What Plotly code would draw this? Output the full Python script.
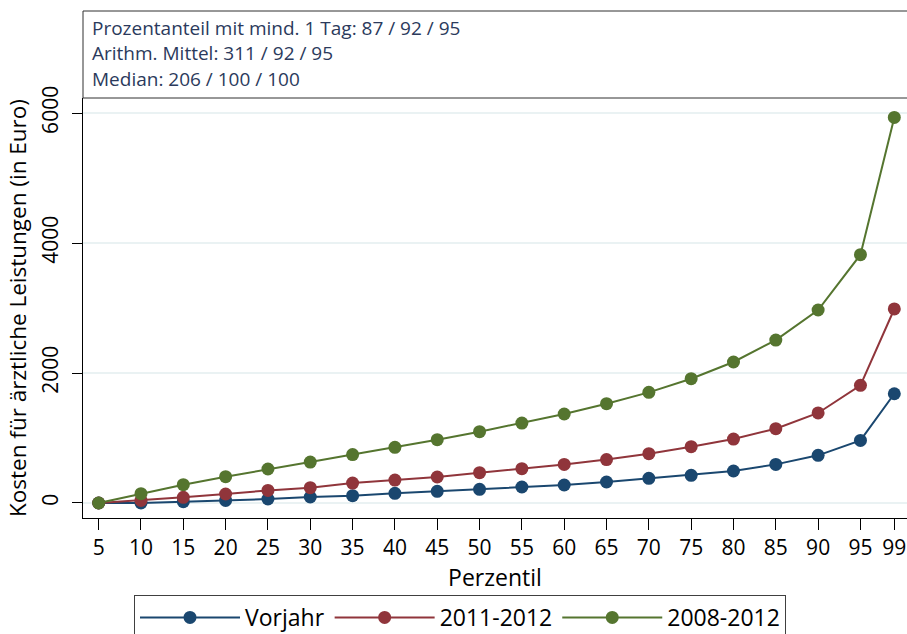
import plotly.graph_objects as go

perzentil = [5, 10, 15, 20, 25, 30, 35, 40, 45, 50, 55, 60, 65, 70, 75, 80, 85, 90, 95, 99]
vorjahr = [0, 0, 20, 40, 61, 92, 112, 148, 179, 210, 246, 277, 323, 379, 425, 492, 594, 733, 963, 1681]
j2011_2012 = [0, 40, 87, 138, 194, 235, 307, 353, 400, 466, 528, 594, 668, 758, 866, 984, 1143, 1385, 1810, 2985]
j2008_2012 = [0, 143, 282, 405, 523, 630, 745, 856, 974, 1097, 1230, 1369, 1528, 1702, 1912, 2169, 2507, 2969, 3820, 5932]

series_names = ["Vorjahr", "2011-2012", "2008-2012"]
series_vals = [vorjahr, j2011_2012, j2008_2012]
colors = ["#1a476f", "#90353b", "#55752f"]

info_lines = [
    "Prozentanteil mit mind. 1 Tag: 87 / 92 / 95",
    "Arithm. Mittel: 311 / 92 / 95",
    "Median: 206 / 100 / 100",
]

FONT = "Open Sans"

fig = go.Figure()
for name, vals, col in zip(series_names, series_vals, colors):
    fig.add_trace(go.Scatter(
        x=perzentil, y=vals, name=name, mode="lines+markers",
        line=dict(color=col, width=2),
        marker=dict(color=col, size=13),
        cliponaxis=False,
    ))

W, H = 907, 634
ml, mr, mt, mb = 83, 0, 98, 116
ph = H - mt - mb
pw = W - ml - mr

fig.update_layout(
    width=W, height=H,
    margin=dict(l=ml, r=mr, t=mt, b=mb, autoexpand=False),
    paper_bgcolor="white", plot_bgcolor="white",
    font=dict(family=FONT, color="black", size=21),
    showlegend=True,
    legend=dict(
        orientation="h", x=(134 - ml) / pw, xanchor="left", y=-77 / ph, yanchor="top",
        bordercolor="#404040", borderwidth=1, font=dict(size=23, family=FONT),
        itemwidth=100, tracegroupgap=0,
    ),
)
fig.update_xaxes(
    range=[3.15, 100.5], tickmode="array", tickvals=perzentil,
    ticktext=[str(p) for p in perzentil], automargin=False,
    showgrid=False, zeroline=False, showline=True, linecolor="black", linewidth=1,
    ticks="outside", ticklen=11, tickcolor="black", tickfont=dict(size=21),
    title=dict(text="Perzentil", font=dict(size=23), standoff=8),
)
fig.update_yaxes(
    range=[-231, 6231], tickvals=[0, 2000, 4000, 6000], automargin=False,
    showgrid=True, gridcolor="#eaf2f3", gridwidth=2, zeroline=False,
    showline=True, linecolor="black", linewidth=1,
    ticks="outside", ticklen=10, tickcolor="black", tickangle=-90,
    tickfont=dict(size=21), ticklabelstandoff=6,
    title=dict(text="Kosten für ärztliche Leistungen (in Euro)", font=dict(size=22.5), standoff=2),
)

# info box above plot area
box_top = 1 + (mt - 11) / ph
fig.add_shape(type="rect", xref="paper", yref="paper", x0=0, x1=1.05, y0=1, y1=box_top,
              line=dict(color="#303030", width=1), fillcolor="white", layer="below")
for i, t in enumerate(info_lines):
    yc = 28 + 25.5 * i
    fig.add_annotation(xref="paper", yref="paper", x=(90 - ml) / pw,
                       y=1 + (mt - yc) / ph, text=t, showarrow=False,
                       xanchor="left", yanchor="middle",
                       font=dict(size=19, color="#2b3a5c", family=FONT))

fig.write_html("out.html", config={"displayModeBar": False},
               post_script="document.body.style.margin='0';document.body.style.overflow='hidden';")
